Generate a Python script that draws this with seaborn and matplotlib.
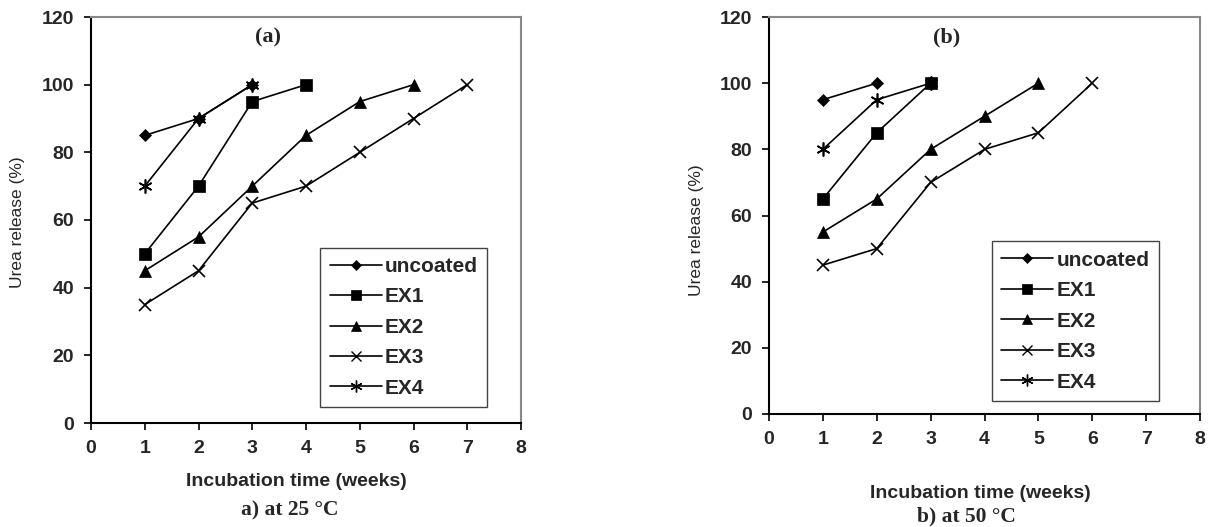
import numpy as np
import pandas as pd
import matplotlib
matplotlib.use("Agg")
import matplotlib.pyplot as plt
from matplotlib.lines import Line2D
import seaborn as sns

# ---- data ----
series_names = ["uncoated", "EX1", "EX2", "EX3", "EX4"]

weeks_a = {
    "uncoated": [1, 2, 3],
    "EX1": [1, 2, 3, 4],
    "EX2": [1, 2, 3, 4, 5, 6],
    "EX3": [1, 2, 3, 4, 5, 6, 7],
    "EX4": [1, 2, 3],
}
release_a = {
    "uncoated": [85, 90, 100],
    "EX1": [50, 70, 95, 100],
    "EX2": [45, 55, 70, 85, 95, 100],
    "EX3": [35, 45, 65, 70, 80, 90, 100],
    "EX4": [70, 90, 100],
}

weeks_b = {
    "uncoated": [1, 2],
    "EX1": [1, 2, 3],
    "EX2": [1, 2, 3, 4, 5],
    "EX3": [1, 2, 3, 4, 5, 6],
    "EX4": [1, 2, 3],
}
release_b = {
    "uncoated": [95, 100],
    "EX1": [65, 85, 100],
    "EX2": [55, 65, 80, 90, 100],
    "EX3": [45, 50, 70, 80, 85, 100],
    "EX4": [80, 95, 100],
}

x_ticks = [0, 1, 2, 3, 4, 5, 6, 7, 8]
y_ticks = [0, 20, 40, 60, 80, 100, 120]

sns.set_theme(style="white")
plt.rcParams["font.family"] = ["Liberation Sans", "DejaVu Sans"]

markers = {"uncoated": "D", "EX1": "s", "EX2": "^", "EX3": "x", "EX4": (6, 2, 0)}
msizes = {"uncoated": 6.5, "EX1": 9, "EX2": 9, "EX3": 9, "EX4": 10}

fig = plt.figure(figsize=(12.12, 5.27), dpi=100)
ax_a = fig.add_axes([91 / 1212, 1 - 423 / 527, 430 / 1212, 406 / 527])
ax_b = fig.add_axes([769 / 1212, 1 - 414 / 527, 431 / 1212, 397 / 527])


def draw(ax, weeks, rel, leg_anchor):
    for s in series_names:
        df = pd.DataFrame({"week": weeks[s], "release": rel[s]})
        line_art = s in ("EX3", "EX4")
        sns.lineplot(data=df, x="week", y="release", ax=ax, color="black",
                     linewidth=1.2, marker=markers[s], markersize=msizes[s],
                     markeredgewidth=1.2 if line_art else 0.5,
                     markerfacecolor="black", markeredgecolor="black",
                     legend=False)
    ax.set_xlim(0, 8)
    ax.set_ylim(0, 120)
    ax.set_xticks(x_ticks)
    ax.set_yticks(y_ticks)
    ax.set_xticklabels([str(t) for t in x_ticks], fontweight="bold", fontsize=14)
    ax.set_yticklabels([str(t) for t in y_ticks], fontweight="bold", fontsize=14)
    ax.set_xlabel("")
    ax.set_ylabel("")
    ax.tick_params(axis="both", direction="out", length=5, width=1.2,
                   color="black", pad=7, bottom=True, left=True)
    for side in ("left", "bottom"):
        ax.spines[side].set_color("black")
        ax.spines[side].set_linewidth(1.5)
    for side in ("top", "right"):
        ax.spines[side].set_color("#888888")
        ax.spines[side].set_linewidth(1.5)
    handles = []
    for s in series_names:
        handles.append(Line2D([0], [0], color="black", lw=1.2, marker=markers[s],
                              markersize=msizes[s] * 0.85,
                              markeredgewidth=1.0 if s in ("EX3", "EX4") else 0.5,
                              markerfacecolor="black", markeredgecolor="black"))
    leg = ax.legend(handles, series_names, loc="lower left",
                    bbox_to_anchor=leg_anchor, frameon=True, fancybox=False,
                    edgecolor="#444444", framealpha=1,
                    prop={"weight": "bold", "size": 15},
                    handlelength=2.5, handletextpad=0.15, labelspacing=0.55,
                    borderpad=0.45, borderaxespad=0)
    leg.get_frame().set_linewidth(1.0)


draw(ax_a, weeks_a, release_a, (0.533, 0.039))
draw(ax_b, weeks_b, release_b, (0.517, 0.033))

serif = ["Liberation Serif", "DejaVu Serif"]
fig.text(268 / 1212, 1 - 37 / 527, "(a)", ha="center", va="center",
         fontsize=16, fontweight="bold", family=serif)
fig.text(947 / 1212, 1 - 37 / 527, "(b)", ha="center", va="center",
         fontsize=16, fontweight="bold", family=serif)

fig.text(296 / 1212, 1 - 481 / 527, "Incubation time (weeks)", ha="center",
         va="center", fontsize=14, fontweight="bold")
fig.text(980 / 1212, 1 - 494 / 527, "Incubation time (weeks)", ha="center",
         va="center", fontsize=14, fontweight="bold")

fig.text(18 / 1212, 1 - 222 / 527, "Urea release (%)", ha="center",
         va="center", rotation=90, fontsize=12.5)
fig.text(697 / 1212, 1 - 230 / 527, "Urea release (%)", ha="center",
         va="center", rotation=90, fontsize=12.5)

fig.text(290 / 1212, 1 - 510 / 527, "a) at 25 °C", ha="center", va="center",
         fontsize=15.5, fontweight="bold", family=serif)
fig.text(966 / 1212, 1 - 516 / 527, "b) at 50 °C", ha="center", va="center",
         fontsize=15.5, fontweight="bold", family=serif)

fig.savefig("out.png", dpi=100, facecolor="white")
